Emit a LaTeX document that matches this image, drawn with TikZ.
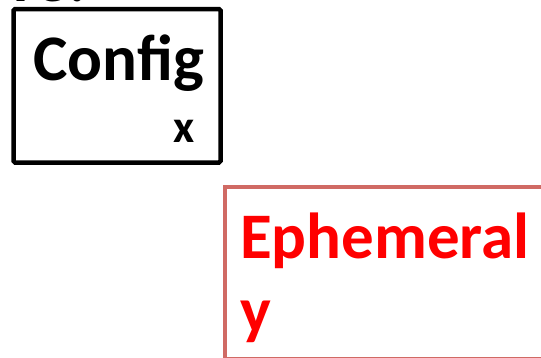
\documentclass[tikz,border=0pt]{standalone}
\usepackage{fontspec}
\setmainfont{Carlito}
\definecolor{boxred}{HTML}{D06A64}
\tikzset{
  lbl/.style={inner sep=0pt, anchor=base west, font=\bfseries\fontsize{65}{78}\selectfont},
  small/.style={inner sep=0pt, anchor=base west, font=\bfseries\fontsize{46}{55}\selectfont},
  blackbox/.style={draw=black, line width=4.5pt, rounded corners=1.5pt, inner sep=0pt},
  redbox/.style={draw=boxred, line width=4pt, inner sep=0pt}
}
\begin{document}
\begin{tikzpicture}[x=1pt,y=-1pt]
\useasboundingbox (0,0) rectangle (541,357);
\clip (0,0) rectangle (541,357);
\fill[white] (0,0) rectangle (541,357);
% cropped heading fragment
\node[lbl] (head) at (13,1) {re:};
% boxes
\node[blackbox, minimum width=207pt, minimum height=153.5pt] (cfgbox) at (117,85.75) {};
\node[redbox, minimum width=360pt, minimum height=172pt, anchor=north west] (ephbox) at (222.5,185) {};
% texts
\node[lbl] (cfg) at (33,80) {Config};
\node[small] (x) at (173,142) {x};
\node[lbl, text=red] (eph) at (240,258) {Ephemeral};
\node[lbl, text=red] (y) at (240,332) {y};
\end{tikzpicture}
\end{document}
